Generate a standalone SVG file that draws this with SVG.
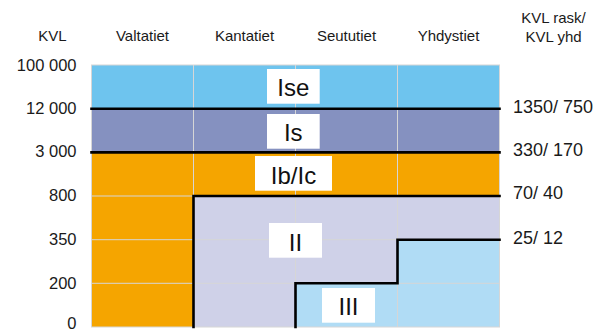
<svg xmlns="http://www.w3.org/2000/svg" width="607" height="331" viewBox="0 0 607 331">
<style>
text{font-family:"Liberation Sans",Arial,sans-serif;fill:#1a1a1a}
.hdr{font-size:15px;text-anchor:middle}
.ax{font-size:16.5px;text-anchor:end}
.rt{font-size:18px}
.lbl{font-size:24px;text-anchor:middle;fill:#111}
.box{fill:#ffffff}
.grid{stroke:#d6d6d6;stroke-width:1;fill:none}
.bound{stroke:#000;stroke-width:2.6;fill:none;stroke-linecap:square}
</style>
<rect width="607" height="331" fill="#ffffff"/>
<g id="headers">
<text class="hdr" x="52.5" y="41">KVL</text>
<text class="hdr" x="142.5" y="41">Valtatiet</text>
<text class="hdr" x="244.5" y="41">Kantatiet</text>
<text class="hdr" x="346.5" y="41">Seututiet</text>
<text class="hdr" x="448.5" y="41">Yhdystiet</text>
<text class="hdr" x="553.5" y="22.5">KVL rask/</text>
<text class="hdr" x="553.5" y="42">KVL yhd</text>
</g>
<g id="y-axis">
<text class="ax" x="76.5" y="70.5">100 000</text>
<text class="ax" x="76.5" y="114">12 000</text>
<text class="ax" x="76.5" y="157">3 000</text>
<text class="ax" x="76.5" y="200.5">800</text>
<text class="ax" x="76.5" y="245">350</text>
<text class="ax" x="76.5" y="288.5">200</text>
<text class="ax" x="76.5" y="328.5">0</text>
</g>
<g id="right-axis">
<text class="rt" x="513" y="112.5">1350/ 750</text>
<text class="rt" x="513" y="155.5">330/ 170</text>
<text class="rt" x="513" y="198.5">70/ 40</text>
<text class="rt" x="513" y="243.5">25/ 12</text>
</g>
<g id="band-Ise">
<rect x="91.5" y="65" width="408" height="43.7" fill="#6ec4ee"/>
</g>
<g id="band-Is">
<rect x="91.5" y="108.7" width="408" height="43.7" fill="#8591c0"/>
</g>
<g id="band-IbIc">
<path d="M91.5 152.4H499.5V196H193.5V327H91.5Z" fill="#f5a500"/>
</g>
<g id="band-II">
<path d="M193.5 196H499.5V239.7H397.5V283.3H295.5V327H193.5Z" fill="#cfd1e8"/>
</g>
<g id="band-III">
<path d="M397.5 239.7H499.5V327H295.5V283.3H397.5Z" fill="#b0dcf5"/>
</g>
<g id="grid">
<path class="grid" d="M193.5 65V327M295.5 65V327M397.5 65V327M91.5 239.7H499.5M91.5 283.3H499.5M91.5 196H499.5"/>
<rect class="grid" x="91.5" y="65" width="408" height="262"/>
</g>
<g id="connectors">
<path class="bound" d="M91.5 108.7H499.5"/>
<path class="bound" d="M91.5 152.4H499.5"/>
<path class="bound" d="M193.5 327V196H499.5"/>
<path class="bound" d="M295.5 327V283.3H397.5V239.7H499.5"/>
</g>
<g id="label-Ise">
<rect class="box" x="267" y="69" width="52.7" height="34.7"/>
<text class="lbl" x="293.3" y="96">Ise</text>
</g>
<g id="label-Is">
<rect class="box" x="267" y="114" width="52.7" height="34.7"/>
<text class="lbl" x="293.3" y="141">Is</text>
</g>
<g id="label-IbIc">
<rect class="box" x="255" y="156" width="77" height="34.7"/>
<text class="lbl" x="293.5" y="184">Ib/Ic</text>
</g>
<g id="label-II">
<rect class="box" x="269" y="223" width="53" height="34.7"/>
<text class="lbl" x="295.5" y="250.5">II</text>
</g>
<g id="label-III">
<rect class="box" x="322" y="288" width="53" height="34.7"/>
<text class="lbl" x="348.5" y="314.5">III</text>
</g>
</svg>
